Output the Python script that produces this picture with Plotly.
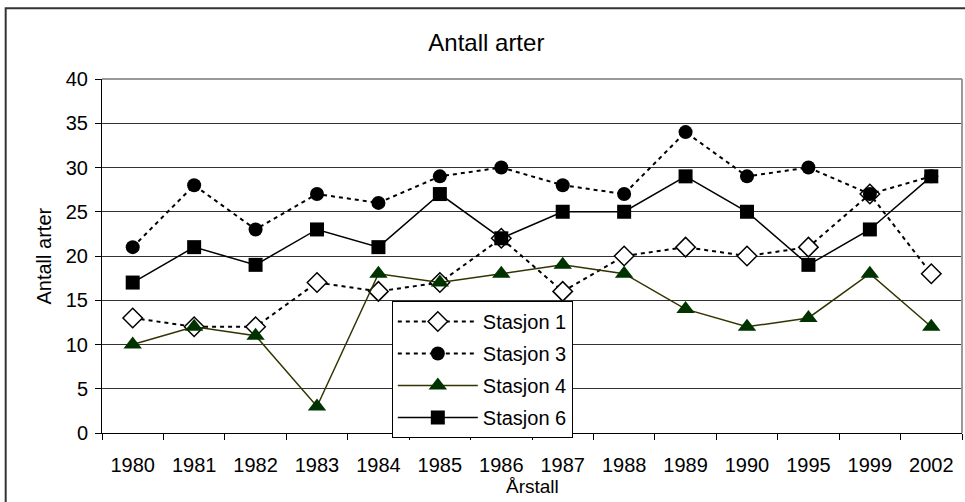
import plotly.graph_objects as go

# Årstall (kategorier)
years = ["1980", "1981", "1982", "1983", "1984", "1985", "1986",
         "1987", "1988", "1989", "1990", "1995", "1999", "2002"]

stasjon_1 = [13, 12, 12, 17, 16, 17, 22, 16, 20, 21, 20, 21, 27, 18]
stasjon_3 = [21, 28, 23, 27, 26, 29, 30, 28, 27, 34, 29, 30, 27, 29]
stasjon_4 = [10, 12, 11, 3, 18, 17, 18, 19, 18, 14, 12, 13, 18, 12]
stasjon_6 = [17, 21, 19, 23, 21, 27, 22, 25, 25, 29, 25, 19, 23, 29]

FONT = "Liberation Sans, Arial, sans-serif"

fig = go.Figure()

fig.add_trace(go.Scatter(
    x=years, y=stasjon_1, name="Stasjon 1", mode="lines+markers",
    line=dict(color="black", width=2, dash="4px,4px"),
    marker=dict(symbol="diamond", size=15, color="white",
                line=dict(color="black", width=1.5)),
    legendgroup="s1",
))
fig.add_trace(go.Scatter(
    x=years, y=stasjon_3, name="Stasjon 3", mode="lines+markers",
    line=dict(color="black", width=2, dash="4px,4px"),
    marker=dict(symbol="circle", size=14, color="black"),
    legendgroup="s3",
))
fig.add_trace(go.Scatter(
    x=years, y=stasjon_4, name="Stasjon 4", mode="lines+markers",
    line=dict(color="#333300", width=1.5),
    marker=dict(symbol="triangle-up", size=16, color="#003300"),
    legendgroup="s4",
))
fig.add_trace(go.Scatter(
    x=years, y=stasjon_6, name="Stasjon 6", mode="lines+markers",
    line=dict(color="black", width=1.5),
    marker=dict(symbol="square", size=14, color="black"),
    legendgroup="s6",
))

fig.update_layout(
    width=965, height=502, autosize=False,
    margin=dict(l=102, r=3, t=79, b=69),
    paper_bgcolor="white", plot_bgcolor="white",
    font=dict(family=FONT, size=20, color="black"),
    title=dict(text="Antall arter", x=0.504, xanchor="center",
               y=0.915, yanchor="middle", font=dict(size=24)),
    legend=dict(x=0.337, xanchor="left", y=0.373, yanchor="top",
                bgcolor="white", bordercolor="black", borderwidth=1,
                font=dict(size=20), tracegroupgap=3, itemwidth=80),
    showlegend=True,
)

fig.update_xaxes(
    type="category", range=[-0.5, 13.5],
    showline=True, linecolor="black", linewidth=1,
    ticks="outside", ticklen=6, tickcolor="black", tickson="boundaries",
    ticklabelstandoff=14, showgrid=False,
)
fig.update_yaxes(
    range=[0, 40], dtick=5, tick0=0,
    showline=True, linecolor="black", linewidth=1,
    ticks="outside", ticklen=6, tickcolor="black",
    ticklabelstandoff=3,
    showgrid=True, gridcolor="#333333", gridwidth=1, zeroline=False,
)

# aksetitler
fig.add_annotation(text="Antall arter", xref="paper", yref="paper",
                   x=-0.068, y=0.5, textangle=-90, showarrow=False,
                   font=dict(size=20), xanchor="center", yanchor="middle")
fig.add_annotation(text="Årstall", xref="paper", yref="paper",
                   x=0.5, y=-0.152, showarrow=False,
                   font=dict(size=19), xanchor="center", yanchor="middle")

# grå ramme rundt plottområdet (topp og høyre)
fig.add_shape(type="line", xref="paper", yref="paper", x0=0, x1=1, y0=1, y1=1,
              line=dict(color="#999999", width=2))
fig.add_shape(type="line", xref="paper", yref="paper", x0=1, x1=1, y0=0, y1=1,
              line=dict(color="#999999", width=2))

# ytre ramme rundt diagrammet
fig.add_shape(type="rect", xref="paper", yref="paper",
              x0=-0.112, x1=1.01, y0=-0.3, y1=1.2,
              line=dict(color="#333333", width=2), layer="below")

fig.write_html("out.html", config={"displayModeBar": False},
               post_script="document.body.style.margin='0';")
